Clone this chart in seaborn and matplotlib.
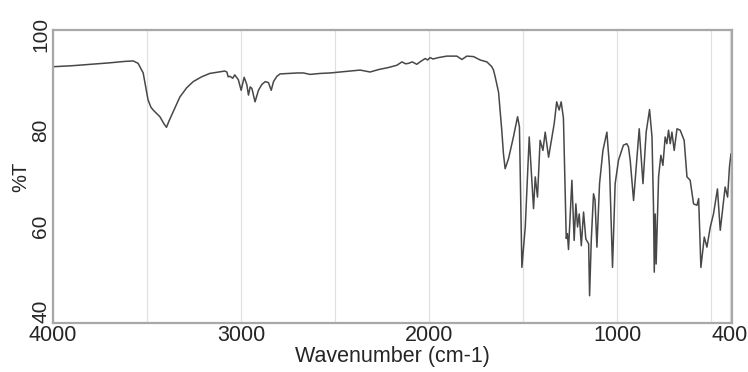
import numpy as np
import pandas as pd
import matplotlib
matplotlib.use('Agg')
import matplotlib.pyplot as plt
import seaborn as sns

# IR spectrum, values
wavenumber = [4000, 3900, 3800, 3700, 3620, 3574, 3548, 3521, 3505, 3495, 3480, 3468, 3450, 3432,
              3410, 3397, 3385, 3362, 3326, 3290, 3255, 3210, 3167, 3120, 3087, 3076, 3069, 3059,
              3045, 3034, 3015, 3000, 2984, 2970, 2961, 2952, 2943, 2926, 2908, 2890, 2872, 2855,
              2840, 2828, 2810, 2793, 2700, 2669, 2633, 2580, 2527, 2473, 2420, 2367, 2340, 2314,
              2270, 2220, 2172, 2145, 2125, 2110, 2090, 2066, 2045, 2021, 2008, 1995, 1980, 1950,
              1906, 1853, 1826, 1800, 1764, 1729, 1693, 1667, 1658, 1649, 1631, 1614, 1605, 1596,
              1578, 1552, 1530, 1520, 1507, 1489, 1468, 1455, 1445, 1436, 1424, 1410, 1395, 1383,
              1365, 1347, 1335, 1322, 1309, 1298, 1286, 1271, 1265, 1259, 1241, 1229, 1220, 1211,
              1202, 1191, 1179, 1167, 1152, 1147, 1138, 1126, 1118, 1108, 1094, 1076, 1055, 1041,
              1025, 1011, 993, 967, 949, 940, 931, 913, 899, 883, 863, 846, 828, 815, 807, 803,
              798, 793, 780, 768, 757, 745, 736, 727, 718, 709, 697, 682, 665, 644, 629, 612,
              594, 576, 567, 555, 537, 523, 505, 488, 467, 452, 434, 426, 413, 403, 395]
transmittance = [93.2, 93.4, 93.7, 94.0, 94.3, 94.4, 93.9, 91.9, 88.5, 86.3, 84.8, 84.2, 83.5, 82.8,
                 81.3, 80.6, 81.8, 83.8, 86.9, 88.8, 90.1, 91.1, 91.8, 92.1, 92.3, 92.1, 91.1, 91.2,
                 90.8, 91.5, 90.5, 88.3, 91.0, 89.5, 87.3, 89.0, 88.7, 85.9, 88.3, 89.5, 90.1, 89.9,
                 88.3, 90.1, 91.2, 91.7, 91.9, 91.9, 91.6, 91.8, 91.9, 92.1, 92.3, 92.5, 92.3, 92.1,
                 92.6, 93.0, 93.5, 94.2, 93.8, 93.9, 94.2, 93.7, 94.3, 94.9, 94.6, 95.1, 94.8, 95.1,
                 95.4, 95.4, 94.7, 95.4, 95.3, 94.6, 94.2, 93.2, 92.5, 91.1, 87.9, 80.0, 75.1, 72.0,
                 74.1, 78.6, 82.8, 80.7, 51.5, 59.9, 78.6, 70.0, 63.7, 70.3, 66.1, 77.9, 75.8, 79.6,
                 74.4, 78.6, 81.4, 85.9, 84.2, 85.9, 82.5, 57.5, 58.5, 55.2, 69.6, 57.1, 64.7, 59.9,
                 62.6, 56.0, 63.0, 57.4, 56.4, 45.6, 57.1, 66.8, 65.5, 55.7, 68.9, 75.8, 79.6, 72.4,
                 51.5, 68.9, 73.8, 76.9, 77.2, 76.5, 73.8, 65.4, 72.4, 80.3, 68.9, 79.6, 84.3, 78.6, 64.0, 50.5,
                 62.6, 52.2, 70.3, 74.8, 72.7, 78.6, 77.2, 80.0, 77.2, 79.6, 75.8, 80.3, 80.0, 77.9, 70.3, 69.6,
                 64.7, 64.4, 65.8, 51.5, 57.8, 55.7, 59.9, 62.6, 67.8, 59.2, 65.4, 68.2, 66.1, 72.4, 75.1]
x_ticks = [4000, 3000, 2000, 1000, 400]
x_minor = [3500, 2500, 1500, 500]
y_ticks = [40, 60, 80, 100]
y_minor = [50, 70, 90]

df = pd.DataFrame({'wavenumber': wavenumber, 'T': transmittance})

sns.set_style('white')
plt.rcParams['font.family'] = ['Liberation Sans', 'DejaVu Sans']

fig = plt.figure(figsize=(7.48, 3.72), dpi=100)
ax = fig.add_axes([0.071, 0.1325, 0.9075, 0.7865])
sns.lineplot(data=df, x='wavenumber', y='T', sort=False, estimator=None,
             color='#484848', linewidth=1.1, ax=ax)

ax.set_xlim(4000, 390)
ax.set_ylim(40, 100.8)
ax.set_xticks(x_ticks)
ax.set_xticks(x_minor, minor=True)
ax.set_yticks(y_ticks)
ax.set_yticks(y_minor, minor=True)
ax.set_xticklabels([str(t) for t in x_ticks], fontsize=15.5)
ylabs = ax.set_yticklabels([str(t) for t in y_ticks], fontsize=15, rotation=90, va='center')
ylabs[0].set_va('bottom')  # bottom label sits above the corner, as in the original
ax.tick_params(axis='both', which='both', direction='in', length=3, color='#999999')
ax.tick_params(axis='x', pad=1.5)
ax.tick_params(axis='y', pad=2)
ax.grid(True, axis='x', which='both', color='#e0e0e0', linewidth=0.9)
ax.grid(False, axis='y')
for s in ax.spines.values():
    s.set_color('#a8a8a8')
    s.set_linewidth(1.6)

ax.set_xlabel('Wavenumber (cm-1)', fontsize=15.5, labelpad=0)
ax.set_ylabel('%T', fontsize=14.5, labelpad=1)

fig.savefig('out.png', dpi=100)
